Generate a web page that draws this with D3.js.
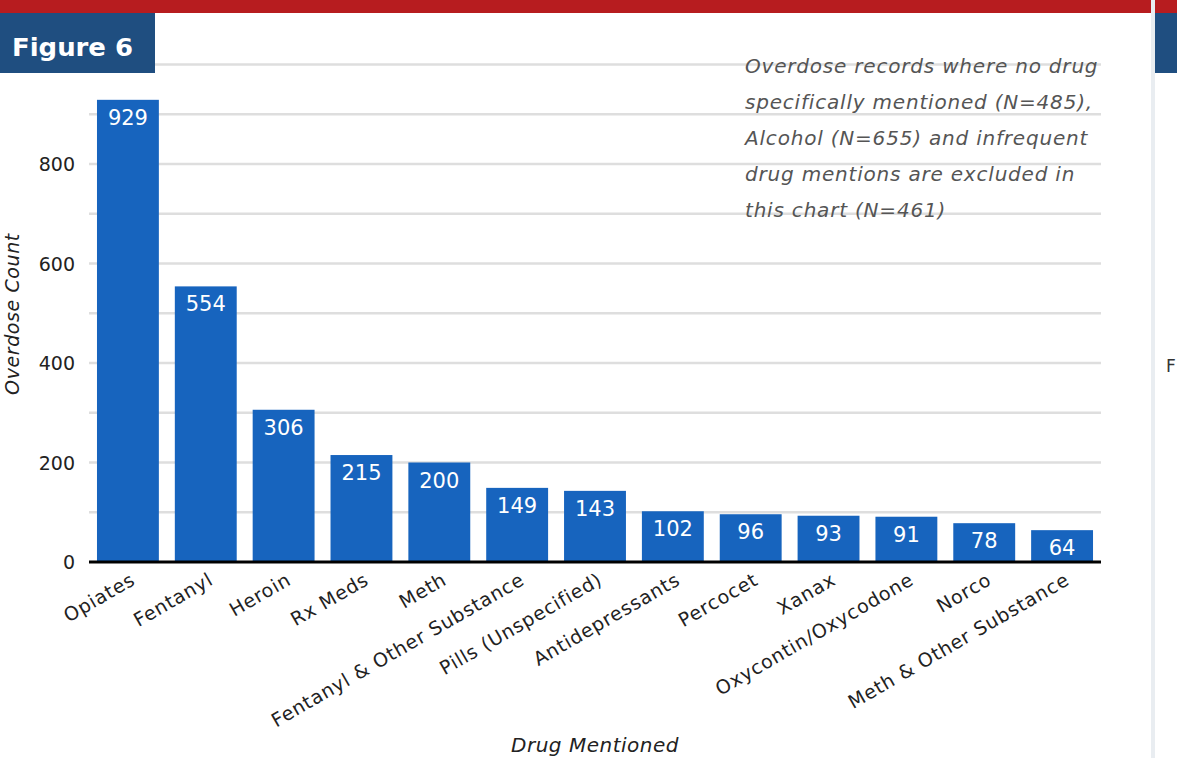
<!DOCTYPE html>
<html><head><meta charset="utf-8">
<script src="https://cdn.jsdelivr.net/npm/d3@7"></script>
<style>body{margin:0;background:#fff;}svg{display:block;font-family:"DejaVu Sans",sans-serif;}</style>
</head><body>
<svg id="c" width="1177" height="758"></svg>
<script>
const categories = ["Opiates","Fentanyl","Heroin","Rx Meds","Meth","Fentanyl & Other Substance","Pills (Unspecified)","Antidepressants","Percocet","Xanax","Oxycontin/Oxycodone","Norco","Meth & Other Substance"];
const values = [929,554,306,215,200,149,143,102,96,93,91,78,64];
const yTickLabels = [0,200,400,600,800];
const gridValues = [0,100,200,300,400,500,600,700,800,900,1000];
const noteLines = ["Overdose records where no drug","specifically mentioned (N=485),","Alcohol (N=655) and infrequent","drug mentions are excluded in","this chart (N=461)"];

const FONT = "'DejaVu Sans',sans-serif";
const svg = d3.select("#c");
svg.append("rect").attr("x",0).attr("y",0).attr("width",1177).attr("height",13).attr("fill","#b71c1f");
svg.append("rect").attr("x",1151).attr("y",0).attr("width",4).attr("height",758).attr("fill","#e9edf1");
svg.append("rect").attr("x",1155).attr("y",13).attr("width",22).attr("height",60).attr("fill","#1f4e80");
svg.append("text").attr("x",1166).attr("y",372).attr("font-size",17).attr("fill","#333").text("F");

const y = d3.scaleLinear().domain([0,1000]).range([562,64.5]);
const x = d3.scaleBand().domain(categories).range([89,1101]).paddingInner(0.205).paddingOuter(0.1025);

svg.append("g").selectAll("line").data(gridValues.slice(1)).join("line")
  .attr("x1",89).attr("x2",1101).attr("y1",d=>y(d)).attr("y2",d=>y(d))
  .attr("stroke","#dedede").attr("stroke-width",2.5);

svg.append("rect").attr("x",0).attr("y",13).attr("width",155).attr("height",60).attr("fill","#1f4e80");
svg.append("text").attr("x",12).attr("y",56).attr("fill","#fff").attr("font-size",24).attr("font-weight",700)
  .attr("textLength",121).attr("lengthAdjust","spacingAndGlyphs").text("Figure 6");

svg.append("g").selectAll("text").data(noteLines).join("text")
  .attr("x",745).attr("y",(d,i)=>73+i*36).attr("font-size",20).attr("letter-spacing",0.8)
  .attr("font-style","italic").attr("fill","#555").text(d=>d);

svg.append("g").selectAll("rect").data(values).join("rect")
  .attr("x",(d,i)=>x(categories[i])).attr("width",x.bandwidth())
  .attr("y",d=>y(d)).attr("height",d=>y(0)-y(d)).attr("fill","#1764be");
svg.append("g").selectAll("text").data(values).join("text")
  .attr("x",(d,i)=>x(categories[i])+x.bandwidth()/2).attr("y",d=>y(d)+25)
  .attr("text-anchor","middle").attr("fill","#fff").attr("font-size",21).text(d=>d);

svg.append("line").attr("x1",89).attr("x2",1101).attr("y1",y(0)).attr("y2",y(0)).attr("stroke","#000").attr("stroke-width",3);

const yAxis = d3.axisLeft(y).tickValues(yTickLabels).tickSize(0).tickPadding(0);
const gy = svg.append("g").attr("transform","translate(75,0)").call(yAxis);
gy.select(".domain").remove();
gy.selectAll("text").attr("font-size",19).attr("fill","#222").attr("font-family",FONT).attr("dy","0.35em");

const xAxis = d3.axisBottom(x).tickSize(0).tickPadding(0);
const gx = svg.append("g").call(xAxis);
gx.select(".domain").remove();
gx.selectAll(".tick").attr("transform",d=>`translate(${x(d)+x.bandwidth()/2+2},572)`);
gx.selectAll("text").attr("font-size",19).attr("letter-spacing",0.8).attr("fill","#222").attr("font-family",FONT)
  .attr("text-anchor","end").attr("y",0).attr("dy","0.7em").attr("transform","rotate(-30)");

svg.append("text").attr("transform","translate(19,314) rotate(-90)").attr("text-anchor","middle")
  .attr("font-size",19).attr("letter-spacing",0.6).attr("font-style","italic").attr("fill","#222").text("Overdose Count");
svg.append("text").attr("x",595).attr("y",752).attr("text-anchor","middle")
  .attr("font-size",20).attr("letter-spacing",0.5).attr("font-style","italic").attr("fill","#222").text("Drug Mentioned");
</script>
</body></html>
